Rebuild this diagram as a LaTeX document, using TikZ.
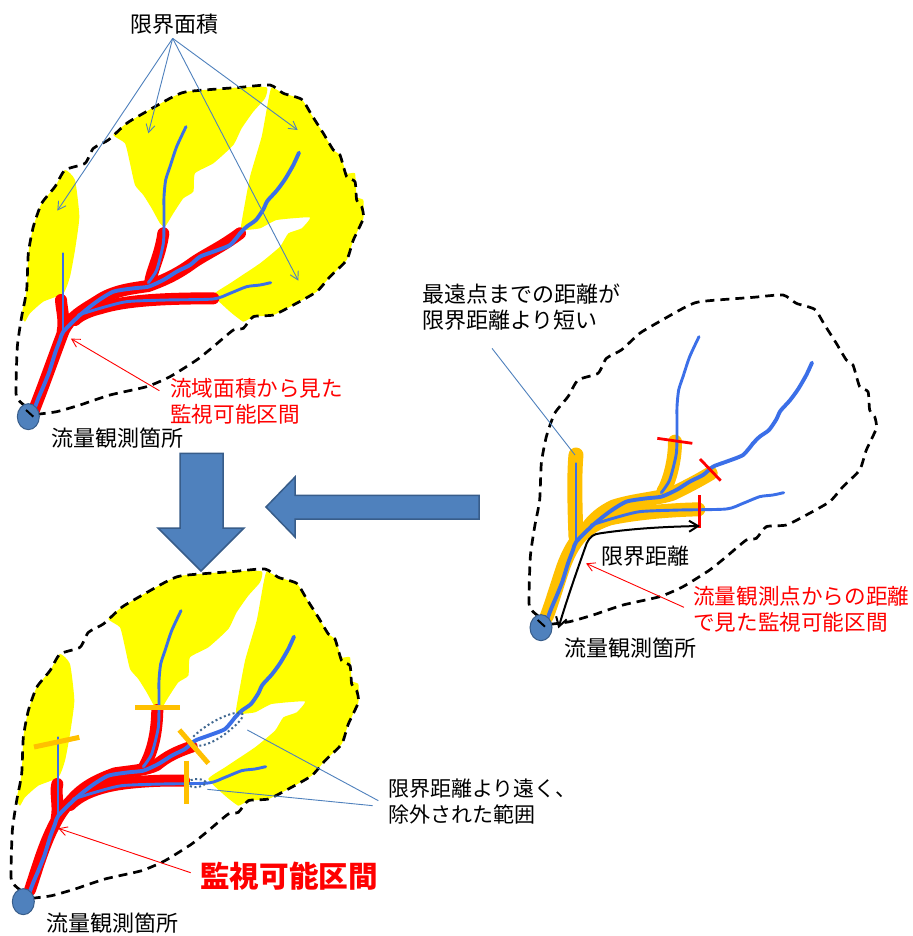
\documentclass[tikz,border=0pt]{standalone}
\usepackage{fontspec}
\setmainfont{Noto Sans CJK JP}
\usetikzlibrary{arrows.meta,calc}
\definecolor{arrowfill}{HTML}{4F81BD}
\definecolor{arrowedge}{HTML}{385D8A}
\definecolor{riverblue}{HTML}{3B6FE8}
\definecolor{areayellow}{HTML}{FFFF00}
\definecolor{monitorred}{HTML}{FF0000}
\definecolor{orangebar}{HTML}{FFC000}
\definecolor{dotblue}{HTML}{3F6790}
\newcommand{\basinline}{plot[smooth,tension=.35] coordinates {(110,1243)(170,1235)(240,1215)(330,1185)(440,1160)(510,1130)(590,1080)(640,1040)(700,990)(730,985)(760,950)(820,945)(880,915)(950,875)(990,830)(1040,780)(1060,720)(1090,655)(1085,620)(1070,600)(1065,545)(1040,530)(1020,465)(1000,450)(970,400)(935,345)(905,298)(850,280)(810,255)(720,262)(560,275)(510,295)(430,340)(380,370)(325,420)(280,445)(255,490)(195,510)(165,560)(125,610)(100,680)(85,760)(80,870)(65,950)(52,1040)(48,1180)(60,1205)(85,1225)}}
\newcommand{\areaA}{plot[smooth cycle,tension=.3] coordinates {(195,510)(225,540)(238,650)(225,750)(210,830)(190,880)(130,905)(90,940)(75,965)(65,945)(80,870)(85,760)(100,680)(125,610)(165,560)}}
\newcommand{\areaB}{plot[smooth cycle,tension=.3] coordinates {(340,405)(380,370)(430,340)(510,295)(560,275)(720,262)(800,262)(795,295)(760,335)(725,385)(700,435)(640,490)(585,520)(580,575)(550,595)(520,640)(495,680)(480,670)(455,625)(430,585)(405,555)(390,490)(375,430)}}
\newcommand{\areaC}{plot[smooth cycle,tension=.25] coordinates {(815,262)(850,280)(905,298)(935,345)(970,400)(1000,450)(1020,465)(1040,520)(1065,520)(1070,590)(1090,600)(1090,655)(1060,720)(1040,780)(990,830)(950,875)(880,915)(820,945)(760,950)(730,965)(690,935)(640,885)(690,850)(780,790)(840,740)(865,700)(905,685)(930,652)(830,660)(780,685)(725,690)(725,665)(750,530)(785,410)(805,300)}}
\newcommand{\rivermainup}{plot[smooth,tension=.4] coordinates {(720,700)(740,680)(768,660)(790,628)(802,603)(830,572)(855,538)(880,495)(897,458)}}
\newcommand{\rivermainlow}{plot[smooth,tension=.4] coordinates {(100,1235)(115,1195)(130,1160)(148,1115)(165,1060)(180,1020)(190,995)(240,945)(290,905)(340,875)(400,865)(445,860)(490,840)(530,815)(570,795)(600,770)(640,755)(690,735)(720,700)}}
\newcommand{\riversouth}{plot[smooth,tension=.4] coordinates {(235,945)(300,925)(380,905)(500,900)(640,897)(690,880)(740,860)(780,855)(812,848)}}
\newcommand{\rivermid}{plot[smooth,tension=.4] coordinates {(445,848)(470,810)(490,730)(492,650)(492,590)(497,540)(510,500)(530,440)(558,380)}}
\newcommand{\riverwest}{plot coordinates {(188,760)(188,990)}}
\newcommand{\basinareas}{\fill[areayellow] \areaA; \fill[areayellow] \areaB; \fill[areayellow] \areaC;}
\newcommand{\allrivers}{%
  \draw[riverthin,line width=2.2pt] \riverwest; \draw[riverthin] \rivermid; \draw[riverthin] \riversouth;
  \draw[riverthick] \rivermainlow; \draw[riverthick] \rivermainup;}
\tikzset{
  outline/.style={draw=black,line width=2.7pt,dash pattern=on 9pt off 6pt},
  riverthin/.style={draw=riverblue,line width=2.9pt,line cap=round},
  riverthick/.style={draw=riverblue,line width=3.9pt,line cap=round},
  redband/.style={draw=monitorred,line width=12pt,line cap=round,line join=round},
  orangeband/.style={draw=orangebar,line width=14pt,line cap=round,line join=round},
  gauge/.style={draw=arrowedge,line width=1pt,fill=arrowfill},
  leaderblue/.style={draw=arrowfill,line width=.9pt},
  leaderarrow/.style={leaderblue,-{Straight Barb[length=8pt,width=9pt]}},
  leaderred/.style={draw=monitorred,line width=.9pt,-{Straight Barb[length=8pt,width=9pt]}},
  bigarrow/.style={draw=arrowedge,line width=1.5pt,fill=arrowfill,line join=miter},
  lbl/.style={inner sep=0,anchor=west,font=\fontsize{22pt}{26pt}\selectfont,align=left},
  redlbl/.style={lbl,text=monitorred,font=\fontsize{21.6pt}{26pt}\selectfont},
  orangebarline/.style={draw=orangebar,line width=5pt},
  redbar/.style={draw=monitorred,line width=2.8pt},
  dotted ring/.style={draw=dotblue,line width=2pt,dash pattern=on 2pt off 2.6pt}
}
\begin{document}
\begin{tikzpicture}[x=0.33333pt,y=-0.33333pt]
\useasboundingbox (0,0) rectangle (2736,2808);
\fill[white] (0,0) rectangle (2736,2808);

%% ---- upper-left basin
\basinareas
\draw[outline] \basinline;
\draw[redband] (720,700) .. controls (660,745) and (610,765) .. (570,795) .. controls (520,830) and (480,845) .. (445,858) .. controls (400,865) and (340,870) .. (290,905) .. controls (250,930) and (210,950) .. (190,995) .. controls (165,1060) and (130,1160) .. (100,1235);
\draw[redband] (640,895) .. controls (500,895) and (380,900) .. (300,925) .. controls (270,932) and (240,945) .. (225,960);
\draw[redband] (450,850) .. controls (455,810) and (480,770) .. (490,700);
\draw[redband] (183,900) .. controls (185,930) and (195,960) .. (188,995);
\allrivers
\draw[gauge] (85,1250) ellipse [x radius=33,y radius=39];
\draw[black,line width=2pt] (78,1230) -- (100,1250);

\node[lbl,anchor=center] (limitarea) at (522,72) {限界面積};
\coordinate (a1) at (172,632);
\coordinate (a2) at (445,400);
\coordinate (a3) at (893,390);
\coordinate (a4) at (895,842);
\coordinate (apex) at (518,115);
\draw[leaderarrow] (apex) -- (a1);
\draw[leaderarrow] (apex) -- (a2);
\draw[leaderarrow] (apex) -- (a3);
\draw[leaderarrow] (apex) -- (a4);
\node[redlbl] (areatext) at (510,1205) {流域面積から見た\\監視可能区間};
\coordinate (redfrom1) at (478,1172);
\coordinate (redto1) at (213,1016);
\draw[leaderred] (redfrom1) -- (redto1);
\node[lbl] (gauge1) at (153,1314) {流量観測箇所};

%% ---- big arrows
\draw[bigarrow] (540,1360) -- (669,1360) -- (669,1584) -- (732,1584) -- (603,1713) -- (474,1584) -- (540,1584) -- cycle;
\draw[bigarrow] (1437,1486) -- (885,1486) -- (885,1431) -- (798,1521) -- (885,1611) -- (885,1557) -- (1437,1557) -- cycle;

%% ---- right basin
\begin{scope}[shift={(1539,630)}]
\draw[outline] \basinline;
\end{scope}
\begin{scope}[shift={(1500,840)}]
\draw[orangeband] (632,580) .. controls (590,605) and (560,620) .. (520,640) .. controls (480,655) and (400,660) .. (340,680) .. controls (310,695) and (280,715) .. (255,755) .. controls (225,780) and (205,820) .. (190,860) .. controls (170,920) and (155,970) .. (140,1010);
\draw[orangeband] (595,688) .. controls (500,690) and (400,700) .. (330,715) .. controls (300,725) and (280,735) .. (262,750);
\draw[orangeband] (490,635) .. controls (510,600) and (525,540) .. (525,485);
\draw[orangeband,line width=15pt] (228,525) .. controls (222,580) and (225,700) .. (228,770);
\end{scope}
\begin{scope}[shift={(1539,630)}]
\allrivers
\end{scope}
\begin{scope}[shift={(1500,840)}]
\draw[gauge] (123,1043) ellipse [x radius=33,y radius=39];
\draw[black,line width=2pt] (113,1020) -- (135,1040);
\draw[redbar] (472,475) -- (577,490);
\draw[redbar] (600,537) -- (662,602);
\draw[redbar] (598,645) -- (598,745);
\draw[black,line width=2pt,{Straight Barb[length=9pt,width=11pt]}-{Straight Barb[length=9pt,width=11pt]}] (175,1045) .. controls (200,960) and (235,860) .. (260,790) .. controls (270,770) and (280,762) .. (300,760) .. controls (400,745) and (500,740) .. (600,738);
\coordinate (callstart) at (-24,205);
\coordinate (callend) at (225,525);
\draw[leaderblue] (callstart) -- (callend);
\node[lbl] (limitdist) at (305,828) {限界距離};
\node[redlbl] (disttext) at (579,988) {流量観測点からの距離\\で見た監視可能区間};
\coordinate (redfrom2) at (552,982);
\coordinate (redto2) at (258,850);
\draw[leaderred] (redfrom2) -- (redto2);
\node[lbl] (gauge2) at (192,1104) {流量観測箇所};
\node[lbl,anchor=west] (fartext) at (-234,81) {最遠点までの距離が\\限界距離より短い};
\end{scope}

%% ---- lower-left basin
\begin{scope}[shift={(-15,1452)}]
\basinareas
\draw[outline] \basinline;
\end{scope}
\begin{scope}[shift={(0,1680)}]
\draw[redband] (575,560) .. controls (530,575) and (500,590) .. (470,615) .. controls (440,630) and (400,632) .. (345,640) .. controls (290,660) and (250,680) .. (215,720) .. controls (190,745) and (175,770) .. (160,800) .. controls (130,860) and (110,930) .. (90,990);
\draw[redband] (552,662) .. controls (480,660) and (380,665) .. (320,680) .. controls (280,690) and (240,705) .. (210,735);
\draw[redband] (430,625) .. controls (450,590) and (470,540) .. (472,450);
\draw[redband] (172,672) .. controls (165,700) and (178,740) .. (170,775);
\end{scope}
\begin{scope}[shift={(-15,1452)}]
\allrivers
\end{scope}
\begin{scope}[shift={(0,1680)}]
\draw[dotted ring] (580,530) .. controls (620,490) and (690,455) .. (722,458) .. controls (740,465) and (715,490) .. (690,510) .. controls (650,545) and (600,565) .. (580,555);
\draw[dotted ring] (565,672) .. controls (565,650) and (620,655) .. (618,670) .. controls (600,685) and (570,685) .. (565,672);
\draw[orangebarline] (405,441) -- (540,441);
\draw[orangebarline] (102,561) -- (238,532);
\draw[orangebarline] (538,510) -- (625,610);
\draw[orangebarline] (560,602) -- (560,731);
\draw[gauge] (70,1025) ellipse [x radius=33,y radius=39];
\coordinate (ex1start) at (1135,722);
\coordinate (ex1end) at (742,510);
\coordinate (ex2start) at (1118,737);
\coordinate (ex2end) at (622,688);
\draw[leaderblue] (ex1start) -- (ex1end);
\draw[leaderblue] (ex2start) -- (ex2end);
\coordinate (redfrom3) at (572,938);
\coordinate (redto3) at (175,805);
\draw[leaderred] (redfrom3) -- (redto3);
\node[lbl,font=\fontsize{21pt}{26pt}\selectfont] (excluded) at (1164,726) {限界距離より遠く、\\除外された範囲};
\node[redlbl,font=\fontsize{29.6pt}{34pt}\selectfont\bfseries] (monitor) at (600,948) {監視可能区間};
\node[lbl] (gauge3) at (138,1090) {流量観測箇所};
\end{scope}
\end{tikzpicture}
\end{document}
